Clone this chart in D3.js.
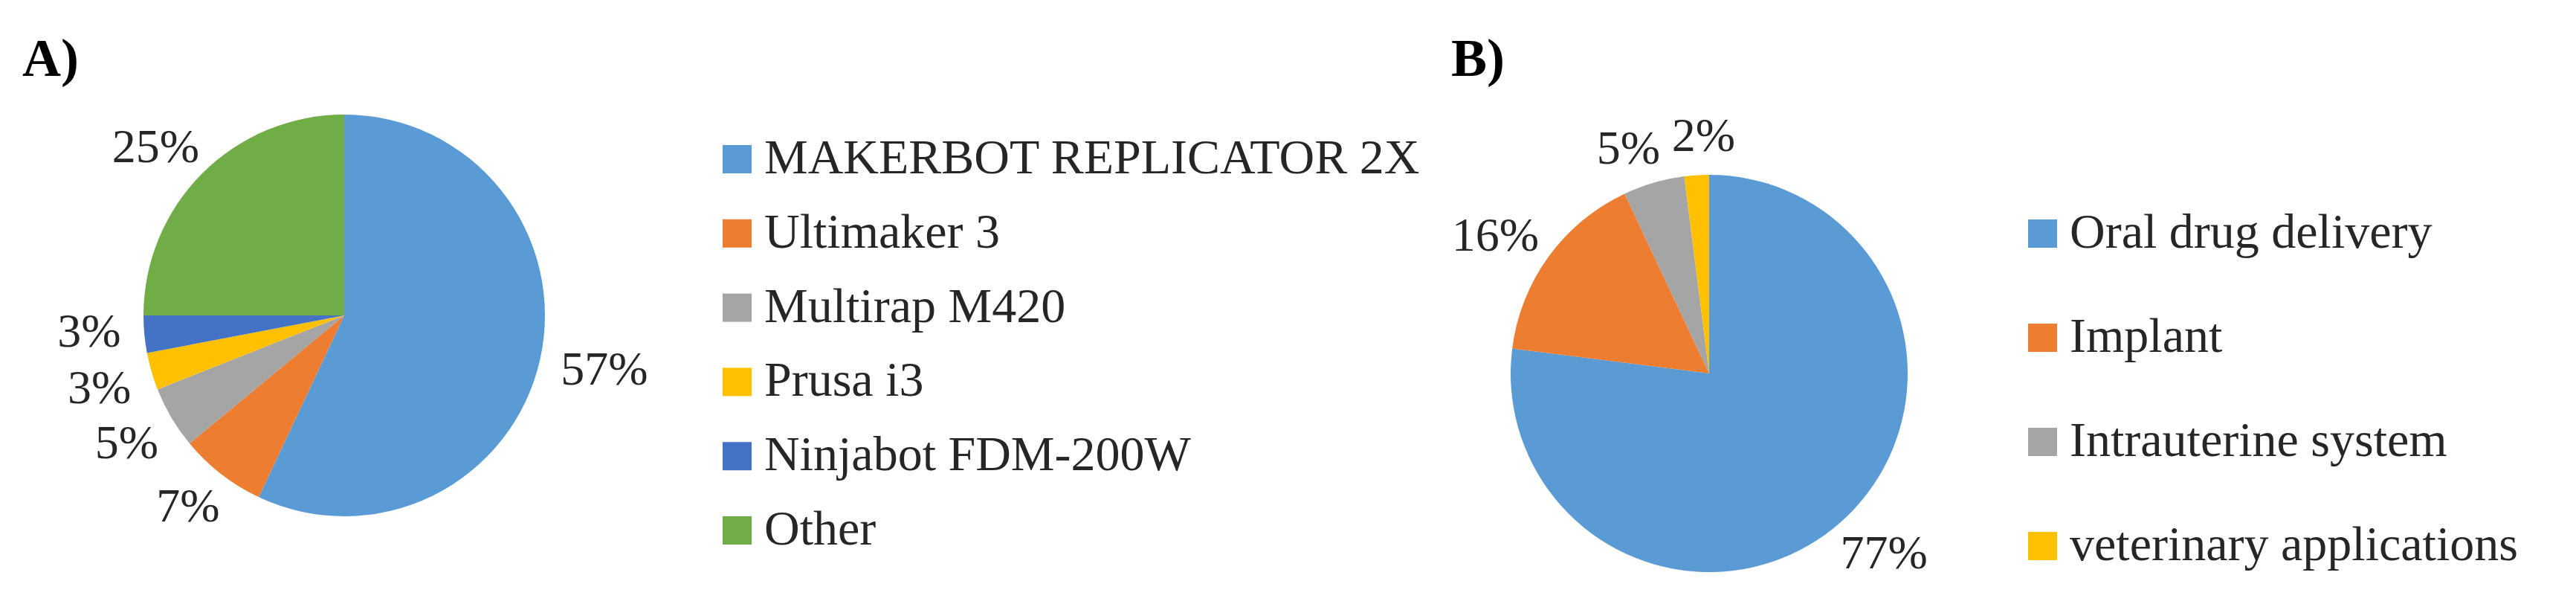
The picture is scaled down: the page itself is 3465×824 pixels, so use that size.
<!DOCTYPE html>
<html>
<head>
<meta charset="utf-8">
<script src="https://cdn.jsdelivr.net/npm/d3@7"></script>
<style>
  body { margin: 0; background: #fff; }
  svg { display: block; }
  text { font-family: "Liberation Serif", "Times New Roman", serif; fill: #262626; }
</style>
</head>
<body>
<div id="chart"></div>
<script>
// panel A: printers used
var printersA = ["MAKERBOT REPLICATOR 2X", "Ultimaker 3", "Multirap M420", "Prusa i3", "Ninjabot FDM-200W", "Other"];
var sharesA = [57, 7, 5, 3, 3, 25];
var colorsA = ["#5b9bd5", "#ed7d31", "#a5a5a5", "#ffc000", "#4472c4", "#70ad47"];

// panel B: applications
var usesB = ["Oral drug delivery", "Implant", "Intrauterine system", "veterinary applications"];
var sharesB = [77, 16, 5, 2];
var colorsB = ["#5b9bd5", "#ed7d31", "#a5a5a5", "#ffc000"];

var width = 3465, height = 824;

var svg = d3.select("#chart")
    .append("svg")
    .attr("width", width)
    .attr("height", height);

svg.append("rect")
    .attr("width", width)
    .attr("height", height)
    .attr("fill", "#fff");

function drawPanel(cfg) {
    var g = svg.append("g");

    // panel letter
    g.append("text")
        .attr("x", cfg.tagX)
        .attr("y", 102)
        .style("font-size", "72px")
        .style("font-weight", "bold")
        .style("fill", "#000")
        .text(cfg.tag);

    var color = d3.scaleOrdinal().domain(cfg.cats).range(cfg.colors);

    var pie = d3.pie().sort(null).value(function (d) { return d.v; });
    var arcs = pie(cfg.cats.map(function (c, i) { return {c: c, v: cfg.values[i]}; }));
    var arc = d3.arc().innerRadius(0).outerRadius(cfg.r);

    var pg = g.append("g")
        .attr("transform", "translate(" + cfg.cx + "," + cfg.cy + ")");

    pg.selectAll("path")
        .data(arcs)
        .enter().append("path")
        .attr("d", arc)
        .attr("fill", function (d) { return color(d.data.c); });

    // labels outside the end of each slice
    var labels = pg.selectAll("text.pct")
        .data(arcs)
        .enter().append("text")
        .attr("class", "pct")
        .attr("text-anchor", "middle")
        .style("font-size", "64px")
        .text(function (d) { return d.data.v + "%"; });

    var boxes = [];
    labels.each(function (d) {
        var a = (d.startAngle + d.endAngle) / 2;
        var dx = Math.sin(a), dy = -Math.cos(a);
        var w = this.getComputedTextLength(), h = 45;
        var rr = cfg.r + 30;
        boxes.push({
            node: this, a: a, w: w, h: h,
            x: dx * rr + dx * w / 2,
            y: dy * rr + dy * h / 2
        });
    });

    // push neighbouring labels apart along the rim
    var padX = 14, boxH = 74;
    for (var it = 0; it < 300; it++) {
        var moved = false;
        for (var i = 0; i < boxes.length - 1; i++) {
            var p = boxes[i], q = boxes[i + 1];
            var ox = (p.w + q.w) / 2 + padX - Math.abs(p.x - q.x);
            var oy = boxH - Math.abs(p.y - q.y);
            if (ox > 0 && oy > 0) {
                var am = (p.a + q.a) / 2;
                var tx = Math.cos(am), ty = Math.sin(am);
                p.x -= tx; p.y -= ty;
                q.x += tx; q.y += ty;
                moved = true;
            }
        }
        if (!moved) break;
    }

    boxes.forEach(function (b) {
        d3.select(b.node).attr("x", b.x).attr("y", b.y + b.h / 2);
    });

    // legend
    var ly = d3.scalePoint().domain(cfg.cats).range(cfg.legendY);
    var items = g.selectAll("g.leg")
        .data(cfg.cats)
        .enter().append("g")
        .attr("class", "leg")
        .attr("transform", function (d) { return "translate(" + cfg.legendX + "," + ly(d) + ")"; });

    items.append("rect")
        .attr("x", 0)
        .attr("y", -19)
        .attr("width", 39)
        .attr("height", 38)
        .attr("fill", function (d) { return color(d); });

    items.append("text")
        .attr("x", 56)
        .attr("y", 19)
        .style("font-size", "66px")
        .text(function (d) { return d; });
}

drawPanel({
    tag: "A)", tagX: 30,
    cats: printersA, values: sharesA, colors: colorsA,
    cx: 463, cy: 424, r: 270,
    legendX: 972, legendY: [214, 713]
});

drawPanel({
    tag: "B)", tagX: 1952,
    cats: usesB, values: sharesB, colors: colorsB,
    cx: 2299, cy: 502, r: 267,
    legendX: 2728, legendY: [314, 734]
});
</script>
</body>
</html>
